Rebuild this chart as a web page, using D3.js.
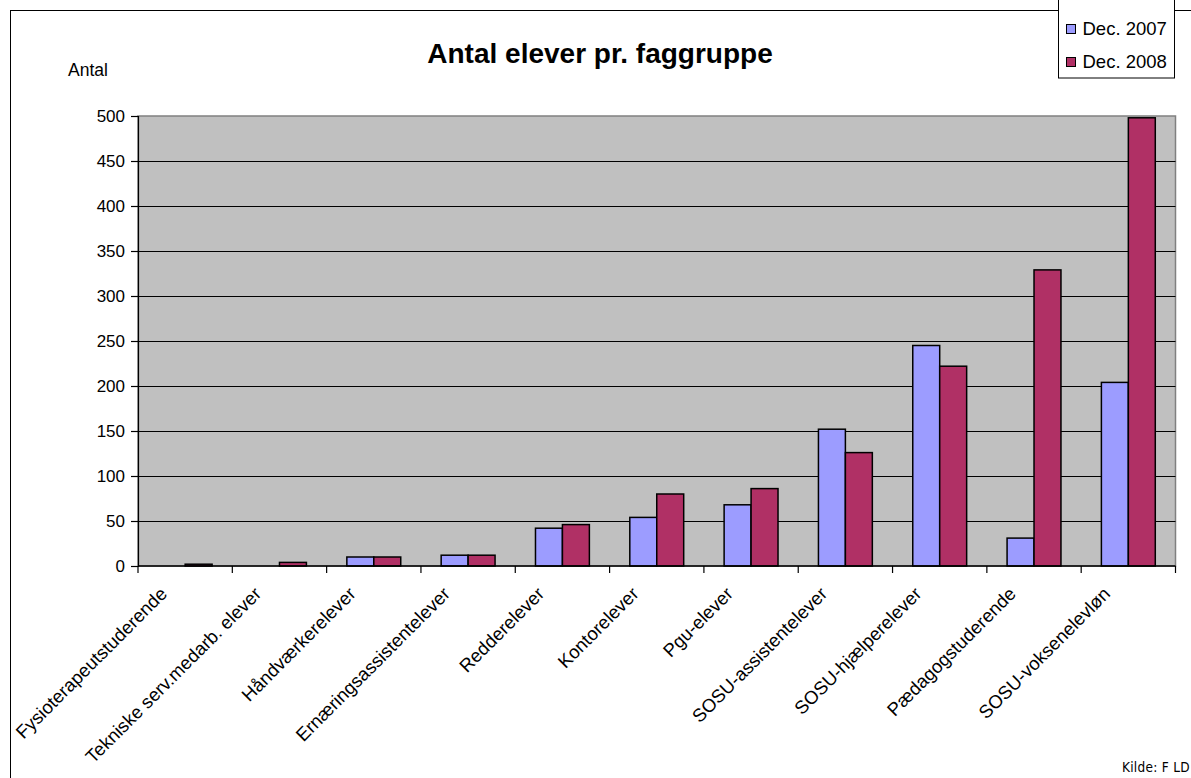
<!DOCTYPE html>
<html>
<head>
<meta charset="utf-8">
<script src="https://cdn.jsdelivr.net/npm/d3@7"></script>
<style>
  html, body { margin: 0; padding: 0; background: #fff; }
  svg { display: block; font-family: "Liberation Sans", Arial, sans-serif; }
</style>
</head>
<body>
<svg id="chart" width="1191" height="778"></svg>
<script>
// Antal elever pr. faggruppe, Dec. 2007 vs Dec. 2008
const categories = [
  "Fysioterapeutstuderende",
  "Tekniske serv.medarb. elever",
  "Håndværkerelever",
  "Ernæringsassistentelever",
  "Redderelever",
  "Kontorelever",
  "Pgu-elever",
  "SOSU-assistentelever",
  "SOSU-hjælperelever",
  "Pædagogstuderende",
  "SOSU-voksenelevløn"
];
const seriesNames = ["Dec. 2007", "Dec. 2008"];
const values2007 = [0, 0, 10, 12, 42, 54, 68, 152, 245, 31, 204];
const values2008 = [2, 4, 10, 12, 46, 80, 86, 126, 222, 329, 498];
const yTicks = [0, 50, 100, 150, 200, 250, 300, 350, 400, 450, 500];

const colors = { "Dec. 2007": "#9c9cff", "Dec. 2008": "#b03065" };

const plot = { left: 138, right: 1175.5, top: 116, bottom: 566 };

const svg = d3.select("#chart");

// outer chart frame
svg.append("rect")
  .attr("x", 10.5).attr("y", 10.5)
  .attr("width", 1300).attr("height", 900)
  .attr("fill", "#fff").attr("stroke", "#000").attr("stroke-width", 1);

const x0 = d3.scaleBand().domain(categories).range([plot.left, plot.right]).padding(0);
const x1 = d3.scaleBand().domain(seriesNames).range([0, x0.bandwidth()])
  .paddingInner(0).paddingOuter(0.75);
const y = d3.scaleLinear().domain([0, 500]).range([plot.bottom, plot.top]);

// plot area
svg.append("rect")
  .attr("x", plot.left).attr("y", plot.top)
  .attr("width", plot.right - plot.left).attr("height", plot.bottom - plot.top)
  .attr("fill", "#c0c0c0").attr("stroke", "#808080").attr("stroke-width", 1.5);

// gridlines
svg.append("g").selectAll("line")
  .data(yTicks.filter(d => d > 0 && d < 500))
  .join("line")
  .attr("x1", plot.left).attr("x2", plot.right)
  .attr("y1", d => Math.round(y(d)) + 0.5).attr("y2", d => Math.round(y(d)) + 0.5)
  .attr("stroke", "#000").attr("stroke-width", 1.2);

// bars
const rows = categories.map((c, i) => ({ cat: c, vals: [
  { key: "Dec. 2007", v: values2007[i] },
  { key: "Dec. 2008", v: values2008[i] }
] }));

svg.append("g").selectAll("g")
  .data(rows)
  .join("g")
  .attr("transform", d => `translate(${x0(d.cat)},0)`)
  .selectAll("rect")
  .data(d => d.vals.filter(o => o.v > 0))
  .join("rect")
  .attr("x", d => x1(d.key))
  .attr("y", d => y(d.v))
  .attr("width", x1.bandwidth())
  .attr("height", d => y(0) - y(d.v))
  .attr("fill", d => colors[d.key])
  .attr("stroke", "#000").attr("stroke-width", 1.5);

// y axis
const yAxis = d3.axisLeft(y).tickValues(yTicks).tickSize(7).tickPadding(6);
const gy = svg.append("g").attr("transform", `translate(${plot.left},0)`).call(yAxis);
gy.select(".domain").attr("stroke", "#000").attr("stroke-width", 1.2);
gy.selectAll(".tick line").attr("stroke", "#000").attr("stroke-width", 1.2);
gy.selectAll(".tick text")
  .attr("font-family", "Liberation Sans, Arial, sans-serif")
  .attr("font-size", 17).attr("fill", "#000");

// x axis line with ticks at category boundaries
const xAxisG = svg.append("g");
xAxisG.append("line")
  .attr("x1", plot.left).attr("x2", plot.right)
  .attr("y1", plot.bottom).attr("y2", plot.bottom)
  .attr("stroke", "#000").attr("stroke-width", 1.5);
const bounds = categories.map(c => x0(c)).concat([plot.right]);
xAxisG.selectAll("line.tk")
  .data(bounds)
  .join("line").attr("class", "tk")
  .attr("x1", d => d).attr("x2", d => d)
  .attr("y1", plot.bottom).attr("y2", plot.bottom + 7)
  .attr("stroke", "#000").attr("stroke-width", 1.2);

// rotated category labels
xAxisG.selectAll("text")
  .data(categories)
  .join("text")
  .attr("transform", d => `translate(${x0(d) + x0.bandwidth() / 2 - 17},${plot.bottom + 29}) rotate(-45)`)
  .attr("text-anchor", "end")
  .attr("font-size", 18.5)
  .attr("fill", "#000")
  .text(d => d);

// title
svg.append("text")
  .attr("x", 600).attr("y", 63)
  .attr("text-anchor", "middle")
  .attr("font-size", 28).attr("font-weight", "bold")
  .text("Antal elever pr. faggruppe");

// y axis caption
svg.append("text")
  .attr("x", 68).attr("y", 76)
  .attr("font-size", 17.5)
  .text("Antal");

// legend
const lg = svg.append("g");
lg.append("rect")
  .attr("x", 1058.5).attr("y", -1)
  .attr("width", 116).attr("height", 79)
  .attr("fill", "#fff").attr("stroke", "#000").attr("stroke-width", 1);
const li = lg.selectAll("g.item")
  .data(seriesNames)
  .join("g").attr("class", "item")
  .attr("transform", (d, i) => `translate(1066,${24 + i * 33})`);
li.append("rect")
  .attr("x", 0.5).attr("y", 0.5)
  .attr("width", 9).attr("height", 9)
  .attr("fill", d => colors[d]).attr("stroke", "#000").attr("stroke-width", 1);
li.append("text")
  .attr("x", 16.5).attr("y", 11)
  .attr("font-size", 18.5)
  .text(d => d);

// source note
svg.append("text")
  .attr("x", 1190).attr("y", 772)
  .attr("text-anchor", "end")
  .attr("font-family", "DejaVu Sans Condensed, DejaVu Sans, sans-serif")
  .attr("font-size", 13.5)
  .attr("letter-spacing", 0.3)
  .text("Kilde: F LD");
</script>
</body>
</html>
